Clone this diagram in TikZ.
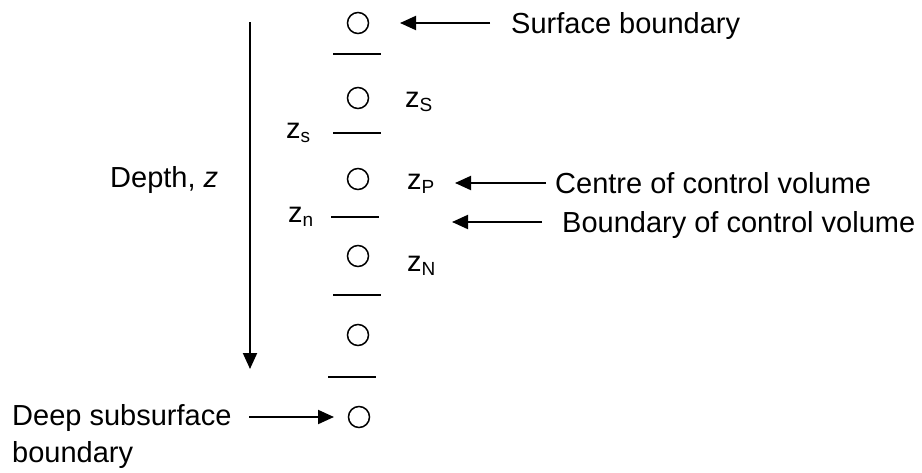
\documentclass[tikz,border=0pt]{standalone}
\usepackage{fontspec}
\setmainfont{Liberation Sans}
\usetikzlibrary{arrows.meta}
\newcommand{\subl}[1]{\raisebox{-4pt}{\fontsize{19}{19}\selectfont #1}}
\begin{document}
\begin{tikzpicture}[x=1pt,y=-1pt,
  font=\fontsize{29}{35}\selectfont,
  cell/.style={circle,draw,line width=1.5pt,minimum size=21pt,inner sep=0pt},
  lbl/.style={anchor=base west,inner sep=0pt},
  bnd/.style={line width=2pt},
  arr/.style={line width=2pt,-{Triangle[length=16pt,width=14pt]}}]
\useasboundingbox (0,0) rectangle (922,472);
% cells
\node[cell] (c1) at (358,23) {};
\node[cell] (c2) at (358,98) {};
\node[cell] (c3) at (358,179) {};
\node[cell] (c4) at (358,256) {};
\node[cell] (c5) at (358,335) {};
\node[cell] (c6) at (359,417) {};
% boundaries
\draw[bnd] (333,54) -- (381,54);
\draw[bnd] (333,133) -- (381,133);
\draw[bnd] (331,217) -- (379,217);
\draw[bnd] (333,295) -- (381,295);
\draw[bnd] (328,377) -- (376,377);
% labels
\node[lbl] (zS) at (405,107) {z\subl{S}};
\node[lbl] (zP) at (407,189) {z\subl{P}};
\node[lbl] (zN) at (407,271) {z\subl{N}};
\node[lbl] (zs) at (286,138) {z\subl{s}};
\node[lbl] (zn) at (288,222) {z\subl{n}};
\node[lbl] (surf) at (511,33) {Surface boundary};
\node[lbl] (cent) at (555,193) {Centre of control volume};
\node[lbl] (bound) at (562,232) {Boundary of control volume};
\node[lbl] (depth) at (110,187) {Depth, \textit{z}};
\node[lbl] (deep) at (12,425) {Deep subsurface};
\node[lbl] (deep2) at (12,462) {boundary};
% arrow ends
\coordinate (a1s) at (490,23);  \coordinate (a1e) at (400,23);
\coordinate (a2s) at (546,183); \coordinate (a2e) at (455,183);
\coordinate (a3s) at (542,222); \coordinate (a3e) at (452,222);
\coordinate (a4s) at (249,417); \coordinate (a4e) at (334,417);
\coordinate (d1) at (250,22);   \coordinate (d2) at (250,369);
\draw[arr] (a1s) -- (a1e);
\draw[arr] (a2s) -- (a2e);
\draw[arr] (a3s) -- (a3e);
\draw[arr] (a4s) -- (a4e);
\draw[arr] (d1) -- (d2);
\end{tikzpicture}
\end{document}
